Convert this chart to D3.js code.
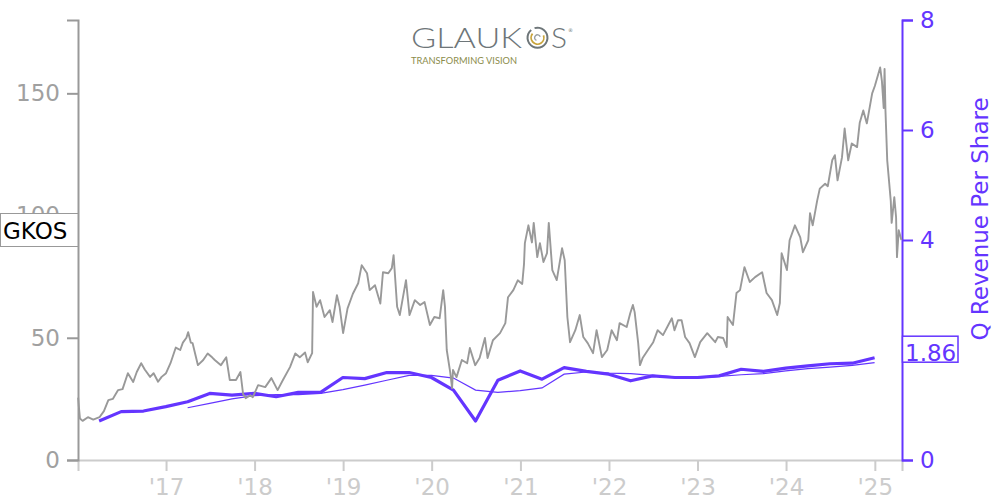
<!DOCTYPE html>
<html><head><meta charset="utf-8">
<script src="https://cdn.jsdelivr.net/npm/d3@7"></script>
<style>body{margin:0;background:#fff}svg{display:block;font-family:"DejaVu Sans",sans-serif}</style>
</head><body><svg id="c" width="1000" height="500"></svg>
<script>
// ---- data ----
const ticker = "GKOS";
const lastRevenueLabel = "1.86";
const priceDates = [2016.01,2016.02,2016.03,2016.06,2016.12,2016.18,2016.25,2016.30,2016.35,2016.40,2016.46,2016.51,2016.57,2016.63,2016.67,2016.72,2016.76,2016.82,2016.86,2016.91,2016.95,
2017.00,2017.05,2017.11,2017.16,2017.19,2017.23,2017.25,2017.28,2017.30,2017.36,2017.42,2017.47,2017.52,2017.55,2017.62,2017.68,2017.72,2017.79,2017.84,2017.87,2017.90,2017.95,2017.98,
2018.04,2018.12,2018.19,2018.26,2018.32,2018.40,2018.46,2018.51,2018.57,2018.60,2018.65,2018.66,2018.70,2018.74,2018.79,2018.85,2018.88,2018.93,2018.96,
2019.00,2019.05,2019.11,2019.17,2019.21,2019.27,2019.30,2019.36,2019.42,2019.45,2019.51,2019.55,2019.57,2019.61,2019.64,2019.71,2019.75,2019.81,2019.87,2019.92,2019.98,
2020.03,2020.09,2020.13,2020.15,2020.17,2020.21,2020.23,2020.24,2020.28,2020.34,2020.40,2020.43,2020.49,2020.54,2020.60,2020.63,2020.69,2020.77,2020.83,2020.86,2020.92,2020.97,
2021.02,2021.04,2021.05,2021.09,2021.13,2021.15,2021.19,2021.22,2021.26,2021.30,2021.32,2021.36,2021.41,2021.47,2021.50,2021.53,2021.56,2021.62,2021.67,2021.71,2021.76,2021.82,2021.86,2021.92,2021.98,
2022.03,2022.09,2022.12,2022.20,2022.24,2022.27,2022.29,2022.33,2022.35,2022.38,2022.44,2022.50,2022.55,2022.61,2022.67,2022.71,2022.74,2022.78,2022.82,2022.86,2022.91,2022.97,
2023.03,2023.11,2023.16,2023.20,2023.23,2023.29,2023.33,2023.34,2023.40,2023.44,2023.48,2023.53,2023.59,2023.65,2023.73,2023.78,2023.84,2023.90,2023.93,2023.95,
2024.01,2024.04,2024.10,2024.16,2024.19,2024.25,2024.27,2024.30,2024.35,2024.38,2024.44,2024.47,2024.52,2024.55,2024.58,2024.63,2024.66,2024.70,2024.74,2024.80,2024.83,2024.87,2024.91,2024.97,
2025.00,2025.04,2025.06,2025.08,2025.10,2025.11,2025.12,2025.14,2025.18,2025.19,2025.22,2025.24,2025.25,2025.27,2025.30];
const priceValues = [25.5,21,17,16,17.5,16.5,17.5,20,24.5,25,28.6,29,35.5,31.9,36,39.6,37,34,35.5,32,34,
35.5,39.6,46,45,48,50,52.3,48,47.8,38.8,40.9,43.6,42,40.9,38.8,42,32.7,32.7,36,27,25.3,26.5,25.7,
30.6,29.8,33.5,28.6,32.7,38,43.6,42,44,40,43.7,68.7,62.7,65.4,58.5,61.3,56.4,67.4,62.7,
51.9,62,68,72.3,79.7,76.4,69.5,71.5,64,76.8,76.4,78.5,83.8,62.7,59.3,73.6,59.3,65.4,63.4,64.6,55.2,
58.5,58,69.5,62.7,45,35.6,29.4,36.8,33.9,40.9,39.6,45.8,38.8,41.7,49.9,41.7,49,51.9,56,66.6,69.5,73.5,
72,80,88.7,96,89,97,83,88.7,81,84.6,97,77.7,73.6,86.6,81.7,58.5,48.2,53.1,59.3,50.3,47.8,43.7,53.1,42.1,45,
53.1,49,56,54.4,60,63.4,60.5,47.8,38.8,41.7,45,48.2,53.1,51.1,55.2,58,53.1,57.2,57.2,50.3,47.8,42.1,
48.2,51.9,49.9,48.2,50.3,49.9,46.2,58.5,55.2,68.3,69.5,78.9,72.8,74.8,76.8,68.3,65.4,59.3,64.2,84.6,
77.7,89.9,96,91.1,85,89.9,101,96,106,111,113,112,122.6,124.7,114.4,123.8,135.6,122.6,129.5,128,138,143,137.7,150,
153,158,160.6,155,144,160,143,122.6,106,97,107.5,99.3,83,94,90];
const quarterDates = ["2016-03-31","2016-06-30","2016-09-30","2016-12-31","2017-03-31","2017-06-30","2017-09-30","2017-12-31",
"2018-03-31","2018-06-30","2018-09-30","2018-12-31","2019-03-31","2019-06-30","2019-09-30","2019-12-31",
"2020-03-31","2020-06-30","2020-09-30","2020-12-31","2021-03-31","2021-06-30","2021-09-30","2021-12-31",
"2022-03-31","2022-06-30","2022-09-30","2022-12-31","2023-03-31","2023-06-30","2023-09-30","2023-12-31",
"2024-03-31","2024-06-30","2024-09-30","2024-12-31"];
const revenuePerShare = [0.71,0.88,0.89,0.97,1.06,1.21,1.18,1.21,1.15,1.23,1.23,1.50,1.48,1.59,1.59,1.50,
1.27,0.71,1.45,1.62,1.47,1.68,1.61,1.56,1.44,1.53,1.50,1.50,1.53,1.65,1.61,1.67,1.71,1.75,1.76,1.86];
const avgDates = quarterDates.slice(4);
const revenueAvg = [0.95,1.03,1.11,1.17,1.19,1.19,1.21,1.28,1.36,1.45,1.54,1.54,1.49,1.27,1.23,1.26,
1.31,1.56,1.60,1.58,1.57,1.54,1.51,1.49,1.52,1.55,1.57,1.62,1.66,1.69,1.72,1.77];
const leftTicks = [0,50,100,150];
const rightTicks = [0,2,4,6,8];
const rightHiddenLabels = [2];   // covered by the last-value box in the reference
const yearTicks = ["2017","2018","2019","2020","2021","2022","2023","2024","2025"];
const rightTitle = "Q Revenue Per Share";

// ---- chart ----
const PURPLE = "#6435ff";
const svg = d3.select("#c");
const parse = d3.utcParse("%Y-%m-%d");
const dec = t => { const y = Math.floor(t), s = Date.UTC(y,0,1), e = Date.UTC(y+1,0,1); return new Date(s + (t-y)*(e-s)); };

const x = d3.scaleUtc().domain([new Date(Date.UTC(2016,0,4)), new Date(Date.UTC(2025,3,23))]).range([78,902]);
const yL = d3.scaleLinear().domain([0,180]).range([460,20]);
const yR = d3.scaleLinear().domain([0,8]).range([460,20]);

// x axis
const gx = svg.append("g").attr("transform","translate(0,460)")
  .call(d3.axisBottom(x).tickValues(yearTicks.map(d=>parse(d+"-01-01"))).tickFormat(d3.utcFormat("'%y")).tickSize(11).tickPadding(8));
gx.selectAll("path,line").attr("stroke","#ccc").attr("stroke-width",2);
gx.selectAll("text").attr("fill","#ccc").style("font-size","23px").style("font-family","DejaVu Sans");

// left axis
const gl = svg.append("g").attr("transform","translate(78,0)")
  .call(d3.axisLeft(yL).tickValues(leftTicks).tickSize(11).tickPadding(7));
gl.selectAll("path,line").attr("stroke","#999").attr("stroke-width",2);
gl.selectAll("text").attr("fill","#a0a0a0").style("font-size","23px").style("font-family","DejaVu Sans");

// right axis
const gr = svg.append("g").attr("transform","translate(902,0)")
  .call(d3.axisRight(yR).tickValues(rightTicks).tickSize(11).tickPadding(7)
    .tickFormat(d => rightHiddenLabels.includes(d) ? "" : d3.format("d")(d)));
gr.selectAll("path,line").attr("stroke",PURPLE).attr("stroke-width",2);
gr.selectAll("text").attr("fill",PURPLE).style("font-size","23px").style("font-family","DejaVu Sans");

svg.append("text").attr("transform","translate(988,219) rotate(-90)").attr("text-anchor","middle")
  .attr("fill",PURPLE).style("font-size","23px").text(rightTitle);

// revenue lines
const qData = quarterDates.map((d,i)=>({d:parse(d), v:revenuePerShare[i]}));
const aData = avgDates.map((d,i)=>({d:parse(d), v:revenueAvg[i]}));
const lineR = d3.line().x(p=>x(p.d)).y(p=>yR(p.v));
svg.append("path").datum(aData).attr("d",lineR).attr("fill","none").attr("stroke",PURPLE).attr("stroke-width",1.2);
svg.append("path").datum(qData).attr("d",lineR).attr("fill","none").attr("stroke",PURPLE).attr("stroke-width",3.2).attr("stroke-linejoin","round");

// price line
const pData = priceDates.map((t,i)=>({d:dec(t), v:priceValues[i]}));
svg.append("path").datum(pData).attr("d", d3.line().x(p=>x(p.d)).y(p=>yL(p.v)))
  .attr("fill","none").attr("stroke","#999").attr("stroke-width",1.9).attr("stroke-linejoin","round");

// ticker box
const lastP = yL(priceValues[priceValues.length-1]);
svg.append("rect").attr("x",0.5).attr("y",lastP-26.5).attr("width",77.5).attr("height",33)
  .attr("fill","#fff").attr("stroke","#999").attr("stroke-width",1);
svg.append("text").attr("x",3).attr("y",lastP-1).attr("fill","#000").style("font-size","23px").text(ticker);

// last revenue box
const lastR = yR(revenuePerShare[revenuePerShare.length-1]);
svg.append("rect").attr("x",902.5).attr("y",lastR-21.5).attr("width",55.5).attr("height",26)
  .attr("fill","#fff").attr("stroke",PURPLE).attr("stroke-width",1.5);
svg.append("text").attr("x",905).attr("y",lastR+3).attr("fill",PURPLE).style("font-size","23px").text(lastRevenueLabel);

// logo
const logo = svg.append("g");
logo.append("text").attr("x",411).attr("y",48).attr("fill","#6e7679")
  .style("font-family","Lato, 'Open Sans', sans-serif").style("font-weight","300").style("font-size","28px")
  .attr("textLength",111).attr("lengthAdjust","spacingAndGlyphs").text("GLAUK");
logo.append("text").attr("x",551).attr("y",48).attr("fill","#6e7679")
  .style("font-family","Lato, 'Open Sans', sans-serif").style("font-weight","300").style("font-size","28px")
  .attr("textLength",16).attr("lengthAdjust","spacingAndGlyphs").text("S");
logo.append("text").attr("x",568).attr("y",32).attr("fill","#6e7679").style("font-size","5px").text("®");
const arc = d3.arc();
const cx = 537.5, cy = 37.7;
logo.append("path").attr("transform",`translate(${cx},${cy})`)
  .attr("d", arc({innerRadius:9, outerRadius:11, startAngle:-0.3, endAngle:5.6})).attr("fill","#6e7679");
logo.append("path").attr("transform",`translate(${cx},${cy})`)
  .attr("d", arc({innerRadius:5.5, outerRadius:7.3, startAngle:1.2, endAngle:5.4})).attr("fill","#c9a43a");
logo.append("path").attr("transform",`translate(${cx},${cy})`)
  .attr("d", arc({innerRadius:2.2, outerRadius:3.6, startAngle:3.5, endAngle:7.5})).attr("fill","#9aa0a3");
logo.append("text").attr("x",411).attr("y",63.5).attr("fill","#8b8c4b")
  .style("font-family","Lato, 'Open Sans', sans-serif").style("font-size","9.5px")
  .attr("textLength",106).attr("lengthAdjust","spacingAndGlyphs").text("TRANSFORMING VISION");
</script></body></html>
